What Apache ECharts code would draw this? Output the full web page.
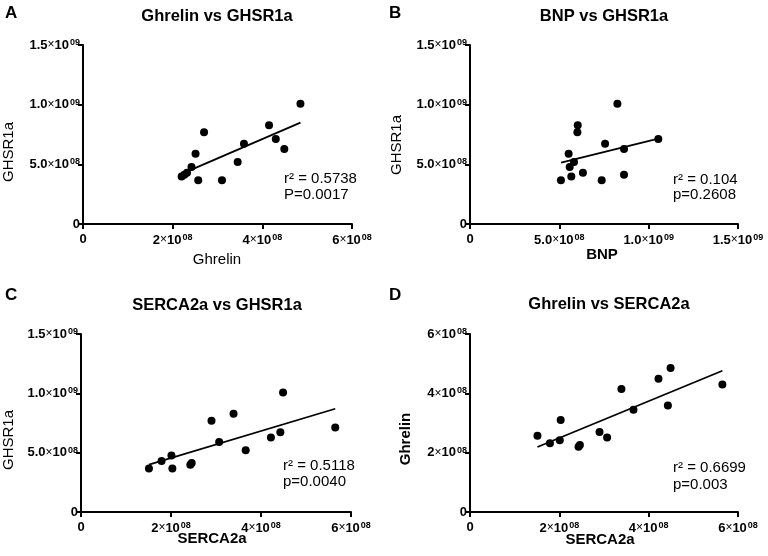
<!DOCTYPE html>
<html><head><meta charset="utf-8">
<script src="https://cdn.jsdelivr.net/npm/echarts@6/dist/echarts.min.js"></script>
<style>html,body{margin:0;padding:0;background:#fff}#c{width:768px;height:556px}</style>
</head><body><div id="c"></div>
<script>
// per-sample values (14 samples)
const serca   = [1.51e8, 1.79e8, 2.01e8, 2.03e8, 2.43e8, 2.46e8, 2.90e8, 3.07e8, 3.39e8, 3.66e8, 4.22e8, 4.43e8, 4.49e8, 5.65e8];
const ghrelin = [2.57e8, 2.32e8, 2.42e8, 3.10e8, 2.20e8, 2.26e8, 2.70e8, 2.51e8, 4.15e8, 3.45e8, 4.49e8, 3.59e8, 4.85e8, 4.30e8];
const ghsr    = [0.366e9, 0.43e9, 0.477e9, 0.366e9, 0.398e9, 0.412e9, 0.769e9, 0.589e9, 0.828e9, 0.52e9, 0.628e9, 0.672e9, 1.007e9, 0.712e9];
const bnp     = [5.09e8, 6.32e8, 5.58e8, 7.37e8, 5.67e8, 8.62e8, 6.01e8, 5.52e8, 6.03e8, 5.82e8, 8.62e8, 7.56e8, 8.25e8, 10.54e8];
// regression line end points
const fitA = [[2.20e8, 0.42e9], [4.85e8, 0.85e9]];
const fitB = [[5.10e8, 0.515e9], [10.54e8, 0.715e9]];
const fitC = [[1.51e8, 0.40e9], [5.65e8, 0.87e9]];
const fitD = [[1.51e8, 2.19e8], [5.65e8, 4.76e8]];
// tick labels
const ticksGHSR = ['0', '5.0×10^08', '1.0×10^09', '1.5×10^09'];
const ticksBNP  = ['0', '5.0×10^08', '1.0×10^09', '1.5×10^09'];
const ticks6e8  = ['0', '2×10^08', '4×10^08', '6×10^08'];
// texts
const panelTitles = ['Ghrelin vs GHSR1a', 'BNP vs GHSR1a', 'SERCA2a vs GHSR1a', 'Ghrelin vs SERCA2a'];
const panelLetters = ['A', 'B', 'C', 'D'];
const statsText = [['r² = 0.5738', 'P=0.0017'], ['r² = 0.104', 'p=0.2608'], ['r² = 0.5118', 'p=0.0040'], ['r² = 0.6699', 'p=0.003']];

const FONT = '"Liberation Sans", Arial, Helvetica, sans-serif';
const rich = {
  m: {fontSize: 13, fontWeight: 'bold', fontFamily: FONT, color: '#000'},
  x: {fontSize: 12, fontWeight: 'normal', fontFamily: FONT, color: '#000'},
  e: {fontSize: 9, fontWeight: 'bold', fontFamily: FONT, color: '#000', padding: [0, 0, 5, 1]}
};
function fmt(labels, interval) {
  return function (v) {
    const s = labels[Math.round(v / interval)] || '';
    if (s.indexOf('×') < 0) return '{m|' + s + '}';
    const a = s.split('×');
    const b = a[1].split('^');
    return '{m|' + a[0] + '}{x|×}{m|' + b[0] + '}{e|' + b[1] + '}';
  };
}
function axis(gi, max, interval, labels, isY) {
  return {
    type: 'value', gridIndex: gi, min: 0, max: max, interval: interval,
    axisLine: {show: true, onZero: false, lineStyle: {color: '#000', width: 2}},
    axisTick: {show: true, length: 5, lineStyle: {color: '#000', width: 2}},
    splitLine: {show: false},
    axisLabel: {margin: isY ? 3 : 9, formatter: fmt(labels, interval), rich: rich, showMinLabel: true, showMaxLabel: true}
  };
}
const grids = [
  {left: 83, top: 45, width: 269, height: 179},
  {left: 470, top: 45, width: 268, height: 179},
  {left: 81, top: 334, width: 270, height: 178},
  {left: 470, top: 334, width: 268, height: 178}
];
const xAxes = [axis(0, 6e8, 2e8, ticks6e8), axis(1, 1.5e9, 5e8, ticksBNP), axis(2, 6e8, 2e8, ticks6e8), axis(3, 6e8, 2e8, ticks6e8)];
const yAxes = [axis(0, 1.5e9, 5e8, ticksGHSR, true), axis(1, 1.5e9, 5e8, ticksGHSR, true), axis(2, 1.5e9, 5e8, ticksGHSR, true), axis(3, 6e8, 2e8, ticks6e8, true)];

function pts(xs, ys) { return xs.map((x, i) => [x, ys[i]]); }
const scat = [pts(ghrelin, ghsr), pts(bnp, ghsr), pts(serca, ghsr), pts(serca, ghrelin)];
const fits = [fitA, fitB, fitC, fitD];
const series = [];
for (let i = 0; i < 4; i++) {
  series.push({type: 'scatter', xAxisIndex: i, yAxisIndex: i, data: scat[i], symbolSize: 8, itemStyle: {color: '#000', opacity: 1}, z: 3});
  series.push({type: 'line', xAxisIndex: i, yAxisIndex: i, data: fits[i], showSymbol: false, symbol: 'none', lineStyle: {color: '#000', width: 1.8}, z: 2, silent: true});
}
function txt(x, y, s, size, weight, opts) {
  return Object.assign({type: 'text', x: x, y: y, style: {text: s, fontSize: size, fontWeight: weight, fontFamily: FONT, fill: '#000', textAlign: 'center', textVerticalAlign: 'middle'}}, opts || {});
}
const g = [];
const letterPos = [[5, 13], [389, 13], [5, 295], [389, 295]];
const titlePos = [[217, 16], [604, 16], [217, 305], [609, 304]];
const statsPos = [[284, 179, 195], [673, 180, 195], [283, 466, 482], [673, 468, 485]];
for (let i = 0; i < 4; i++) {
  const t = txt(letterPos[i][0], letterPos[i][1], panelLetters[i], 17, 'bold');
  t.style.textAlign = 'left';
  g.push(t);
  g.push(txt(titlePos[i][0], titlePos[i][1], panelTitles[i], 16.5, 'bold'));
  for (let k = 0; k < 2; k++) {
    const s = txt(statsPos[i][0], statsPos[i][1 + k], statsText[i][k], 15, 'normal');
    s.style.textAlign = 'left';
    g.push(s);
  }
}
// axis names
const xNames = [['Ghrelin', 217, 260, 'normal'], ['BNP', 602, 255, 'bold'], ['SERCA2a', 212, 539, 'bold'], ['SERCA2a', 600, 540, 'bold']];
const yNames = [['GHSR1a', 9, 152, 'normal'], ['GHSR1a', 397, 145, 'normal'], ['GHSR1a', 9, 440, 'normal'], ['Ghrelin', 406, 439, 'bold']];
xNames.forEach(n => g.push(txt(n[1], n[2], n[0], 15, n[3])));
yNames.forEach(n => g.push(txt(n[1], n[2], n[0], 15, n[3], {rotation: Math.PI / 2})));

const chart = echarts.init(document.getElementById('c'), null, {renderer: 'canvas'});
chart.setOption({
  animation: false,
  backgroundColor: '#fff',
  grid: grids, xAxis: xAxes, yAxis: yAxes, series: series, graphic: g
});
</script></body></html>
